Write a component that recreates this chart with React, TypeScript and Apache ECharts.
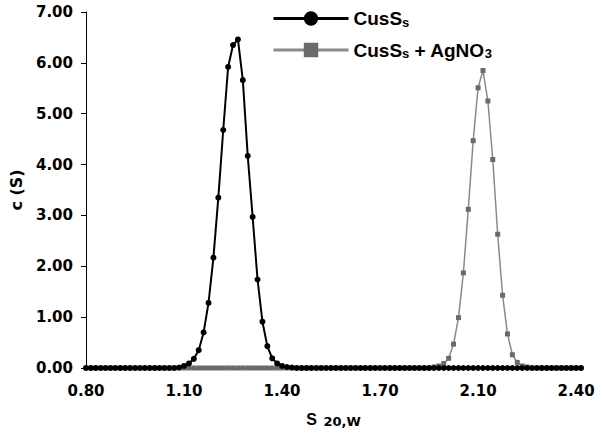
import React, { useEffect, useRef } from "react";
import * as echarts from "echarts";

// x tick labels, shown at every 20th category
const xTickLabels = ["0.80", "1.10", "1.40", "1.70", "2.10", "2.40"];
const labelStep = 20;

// c(S) values for CusSs (102 grid points)
const cusS = [
  0, 0, 0, 0, 0, 0, 0, 0, 0, 0,
  0, 0, 0, 0, 0, 0, 0, 0, 0, 0.01,
  0.04, 0.09, 0.18, 0.35, 0.70, 1.28, 2.17, 3.35, 4.68, 5.92,
  6.35, 6.46, 5.66, 4.17, 2.97, 1.74, 0.91, 0.43, 0.19, 0.09,
  0.04, 0.02, 0.01, 0, 0, 0, 0, 0, 0, 0,
  0, 0, 0, 0, 0, 0, 0, 0, 0, 0,
  0, 0, 0, 0, 0, 0, 0, 0, 0, 0,
  0, 0, 0, 0, 0, 0, 0, 0, 0, 0,
  0, 0, 0, 0, 0, 0, 0, 0, 0, 0,
  0, 0, 0, 0, 0, 0, 0, 0, 0, 0,
  0, 0,
];

// c(S) values for CusSs + AgNO3
const cusSAg = [
  0, 0, 0, 0, 0, 0, 0, 0, 0, 0,
  0, 0, 0, 0, 0, 0, 0, 0, 0, 0,
  0, 0, 0, 0, 0, 0, 0, 0, 0, 0,
  0, 0, 0, 0, 0, 0, 0, 0, 0, 0,
  0, 0, 0, 0, 0, 0, 0, 0, 0, 0,
  0, 0, 0, 0, 0, 0, 0, 0, 0, 0,
  0, 0, 0, 0, 0, 0, 0, 0, 0, 0,
  0, 0.02, 0.04, 0.09, 0.19, 0.47, 0.99, 1.87, 3.12, 4.47,
  5.51, 5.85, 5.25, 4.10, 2.63, 1.43, 0.67, 0.26, 0.11, 0.04,
  0.02, 0, 0, 0, 0, 0, 0, 0, 0, 0,
  0, 0,
];

const seriesNames = ["CusSs", "CusSs + AgNO3"];

export default function App() {
  const ref = useRef<HTMLDivElement>(null);

  useEffect(() => {
    document.body.style.margin = "0";
    if (!ref.current) return;
    const chart = echarts.init(ref.current, undefined, { renderer: "svg" });
    const categories = cusS.map((_, i) => String(i));
    const tickFont = {
      fontFamily: "DejaVu Sans",
      fontWeight: "bold" as const,
      fontSize: 15,
      color: "#000",
    };
    const legendMain = {
      fontFamily: "Liberation Sans",
      fontWeight: "bold" as const,
      fontSize: 19,
      color: "#000",
      lineHeight: 20,
    };
    chart.setOption({
      animation: false,
      backgroundColor: "#fff",
      grid: { left: 85, right: 21, top: 12, bottom: 72, containLabel: false },
      legend: {
        orient: "vertical",
        left: 267,
        top: 4,
        itemWidth: 75,
        itemHeight: 18,
        itemGap: 12,
        lineStyle: { width: 3 },
        data: seriesNames,
        formatter: (name: string) =>
          name === seriesNames[0]
            ? "{b|CusS}{s|s}"
            : "{b|CusS}{s|s}{b| + AgNO}{s|3}",
        textStyle: {
          rich: {
            b: legendMain,
            s: {
              fontFamily: "Liberation Sans",
              fontWeight: "bold",
              fontSize: 13,
              color: "#000",
              lineHeight: 2,
              verticalAlign: "bottom",
            },
          },
        },
      },
      xAxis: {
        type: "category",
        data: categories,
        boundaryGap: false,
        axisLine: { lineStyle: { color: "#000", width: 1 } },
        axisTick: { show: false },
        splitLine: { show: false },
        axisLabel: {
          ...tickFont,
          interval: labelStep - 1,
          margin: 15,
          formatter: (_v: string, idx: number) =>
            idx % labelStep === 0 ? xTickLabels[idx / labelStep] ?? "" : "",
        },
        name: "{m|S}  {s|20,W}",
        nameLocation: "middle",
        nameGap: 42,
        nameTextStyle: {
          rich: {
            m: {
              fontFamily: "Liberation Sans",
              fontWeight: "bold",
              fontSize: 16,
              color: "#000",
              lineHeight: 18,
            },
            s: {
              fontFamily: "DejaVu Sans",
              fontWeight: "bold",
              fontSize: 13,
              color: "#000",
              lineHeight: 6,
              verticalAlign: "bottom",
            },
          },
        },
      },
      yAxis: {
        type: "value",
        min: 0,
        max: 7,
        interval: 1,
        axisLine: { show: true, lineStyle: { color: "#000", width: 1 } },
        axisTick: { show: true, length: 5, lineStyle: { color: "#000" } },
        splitLine: { show: false },
        axisLabel: {
          ...tickFont,
          margin: 13,
          formatter: (v: number) => v.toFixed(2),
        },
        name: "c (S)",
        nameLocation: "middle",
        nameRotate: 90,
        nameGap: 62,
        nameTextStyle: {
          fontFamily: "DejaVu Sans",
          fontWeight: "bold",
          fontSize: 16,
          color: "#000",
        },
      },
      series: [
        {
          name: seriesNames[0],
          type: "line",
          data: cusS,
          z: 3,
          symbol: "circle",
          symbolSize: 6,
          showAllSymbol: true,
          itemStyle: { color: "#000" },
          lineStyle: { color: "#000", width: 2 },
        },
        {
          name: seriesNames[1],
          type: "line",
          data: cusSAg,
          z: 2,
          symbol: "rect",
          symbolSize: 5,
          showAllSymbol: true,
          itemStyle: { color: "#6a6a6a" },
          lineStyle: { color: "#8a8a8a", width: 1.5 },
        },
      ],
    });
    return () => chart.dispose();
  }, []);

  return <div ref={ref} style={{ width: 602, height: 440 }} />;
}
